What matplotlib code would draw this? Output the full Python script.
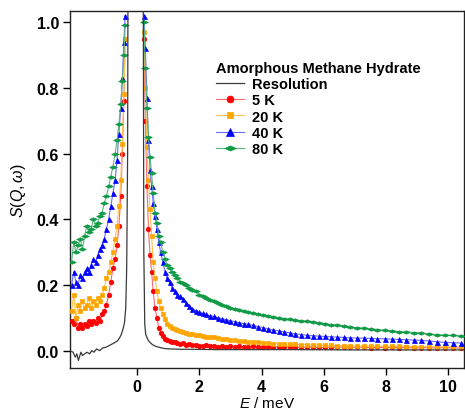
import numpy as np
import matplotlib.pyplot as plt
from matplotlib.path import Path

plt.rcParams['font.family'] = ['Liberation Sans', 'DejaVu Sans']
plt.rcParams['mathtext.fontset'] = 'custom'
plt.rcParams['mathtext.it'] = 'Liberation Sans:italic'
plt.rcParams['mathtext.rm'] = 'Liberation Sans'

# energy grids (meV)
E_neg = [-2.10, -2.03, -1.96, -1.89, -1.82, -1.75, -1.68, -1.61, -1.54, -1.47,
         -1.40, -1.33, -1.26, -1.19, -1.12, -1.05, -0.98, -0.91, -0.84, -0.77,
         -0.70, -0.64, -0.58, -0.52, -0.47, -0.42, -0.38]
E_pos = [0.22, 0.27, 0.32, 0.37, 0.42, 0.47, 0.52, 0.58, 0.64, 0.70,
         0.76, 0.83, 0.90, 0.97, 1.05, 1.13, 1.21, 1.30, 1.39, 1.48,
         1.58, 1.68, 1.78, 1.89, 2.00, 2.11, 2.23, 2.35, 2.47, 2.60,
         2.73, 2.86, 3.00, 3.14, 3.28, 3.43, 3.58, 3.73, 3.89, 4.05,
         4.21, 4.38, 4.55, 4.72, 4.90, 5.08, 5.26, 5.45, 5.64, 5.83,
         6.03, 6.23, 6.43, 6.64, 6.85, 7.06, 7.28, 7.50, 7.72, 7.95,
         8.18, 8.41, 8.65, 8.89, 9.13, 9.38, 9.63, 9.88, 10.14, 10.40]

# S(Q,w) for each temperature, negative side then positive side
s5_neg = [0.09, 0.08, 0.10, 0.07, 0.08, 0.07, 0.08, 0.075, 0.09, 0.08,
          0.09, 0.085, 0.10, 0.09, 0.11, 0.12, 0.14, 0.17, 0.21, 0.25,
          0.28, 0.32, 0.38, 0.47, 0.60, 0.76, 0.95]
s5_pos = [0.95, 0.70, 0.50, 0.37, 0.29, 0.24, 0.18, 0.13, 0.10, 0.07,
          0.055, 0.045, 0.036, 0.033, 0.028, 0.025, 0.027, 0.022, 0.020, 0.024,
          0.018, 0.020, 0.016, 0.018, 0.015, 0.014, 0.016, 0.013, 0.015, 0.012,
          0.014, 0.012, 0.013, 0.011, 0.013, 0.012, 0.011, 0.013, 0.010, 0.012,
          0.011, 0.012, 0.010, 0.011, 0.012, 0.010, 0.011, 0.010, 0.012, 0.010,
          0.011, 0.010, 0.012, 0.010, 0.011, 0.010, 0.011, 0.009, 0.010, 0.009,
          0.010, 0.009, 0.010, 0.008, 0.009, 0.009, 0.008, 0.009, 0.008, 0.008]

s20_neg = [0.12, 0.17, 0.10, 0.14, 0.12, 0.15, 0.13, 0.14, 0.16, 0.13,
           0.15, 0.14, 0.16, 0.15, 0.17, 0.19, 0.22, 0.24, 0.27, 0.30,
           0.34, 0.38, 0.44, 0.52, 0.63, 0.78, 0.95]
s20_pos = [0.97, 0.80, 0.62, 0.52, 0.43, 0.35, 0.27, 0.22, 0.18, 0.15,
           0.13, 0.11, 0.095, 0.082, 0.075, 0.070, 0.066, 0.063, 0.060, 0.057,
           0.055, 0.052, 0.050, 0.048, 0.046, 0.044, 0.042, 0.041, 0.040, 0.038,
           0.036, 0.035, 0.033, 0.031, 0.030, 0.028, 0.027, 0.026, 0.025, 0.024,
           0.022, 0.021, 0.021, 0.020, 0.019, 0.019, 0.018, 0.018, 0.017, 0.017,
           0.016, 0.016, 0.015, 0.015, 0.015, 0.014, 0.014, 0.014, 0.013, 0.013,
           0.013, 0.013, 0.012, 0.012, 0.012, 0.012, 0.012, 0.011, 0.012, 0.011]

s40_neg = [0.20, 0.24, 0.21, 0.20, 0.23, 0.22, 0.24, 0.25, 0.24, 0.26,
           0.28, 0.27, 0.29, 0.31, 0.32, 0.34, 0.37, 0.40, 0.44, 0.48,
           0.52, 0.58, 0.66, 0.74, 0.83, 0.94, 1.02]
s40_pos = [1.02, 0.92, 0.77, 0.64, 0.55, 0.50, 0.45, 0.41, 0.37, 0.33,
           0.30, 0.27, 0.24, 0.22, 0.21, 0.19, 0.18, 0.17, 0.165, 0.157,
           0.145, 0.135, 0.127, 0.122, 0.117, 0.113, 0.110, 0.106, 0.104, 0.100,
           0.097, 0.094, 0.091, 0.088, 0.085, 0.082, 0.080, 0.077, 0.073, 0.070,
           0.066, 0.063, 0.060, 0.057, 0.054, 0.051, 0.049, 0.047, 0.045, 0.044,
           0.043, 0.042, 0.041, 0.040, 0.039, 0.038, 0.038, 0.037, 0.036, 0.036,
           0.035, 0.034, 0.033, 0.032, 0.031, 0.029, 0.027, 0.025, 0.024, 0.023]

s80_neg = [0.27, 0.33, 0.30, 0.32, 0.34, 0.31, 0.35, 0.38, 0.36, 0.37,
           0.40, 0.38, 0.39, 0.41, 0.42, 0.45, 0.47, 0.50, 0.53, 0.56,
           0.60, 0.64, 0.69, 0.75, 0.82, 0.90, 0.99]
s80_pos = [1.00, 0.86, 0.74, 0.65, 0.59, 0.54, 0.48, 0.42, 0.39, 0.35,
           0.33, 0.30, 0.28, 0.26, 0.25, 0.24, 0.23, 0.22, 0.21, 0.205,
           0.20, 0.19, 0.185, 0.18, 0.17, 0.165, 0.16, 0.155, 0.15, 0.145,
           0.14, 0.135, 0.13, 0.128, 0.125, 0.12, 0.118, 0.115, 0.11, 0.107,
           0.104, 0.101, 0.099, 0.097, 0.095, 0.093, 0.091, 0.089, 0.087, 0.085,
           0.082, 0.079, 0.077, 0.075, 0.072, 0.070, 0.068, 0.066, 0.064, 0.062,
           0.060, 0.058, 0.057, 0.055, 0.053, 0.051, 0.049, 0.047, 0.046, 0.045]

# resolution function
res_E = [-2.15, -2.05, -1.98, -1.93, -1.88, -1.85, -1.80, -1.75, -1.68, -1.60,
         -1.52, -1.45, -1.38, -1.30, -1.20, -1.10, -1.00, -0.90, -0.80, -0.70,
         -0.62, -0.55, -0.50, -0.45, -0.40, -0.36, -0.33, -0.30, -0.28, -0.27,
         0.0, 0.19, 0.20, 0.22, 0.25, 0.28, 0.32, 0.37, 0.43, 0.50,
         0.60, 0.75, 0.90, 1.10, 1.40, 1.80, 2.50, 3.50, 5.0, 7.0, 9.0, 10.5]
res_S = [0.0, -0.005, -0.02, -0.01, -0.03, -0.02, -0.005, -0.015, -0.01, -0.005,
         -0.01, 0.0, -0.005, 0.005, 0.0, 0.008, 0.01, 0.015, 0.02, 0.025,
         0.03, 0.04, 0.05, 0.065, 0.085, 0.13, 0.25, 0.6, 1.5, 3.0,
         30.0, 3.0, 1.2, 0.3, 0.08, 0.05, 0.04, 0.03, 0.024, 0.018,
         0.013, 0.009, 0.006, 0.005, 0.004, 0.004, 0.003, 0.003, 0.003, 0.002, 0.002, 0.002]

# label, data, marker colour, line colour, marker, size
series = [("5 K", s5_neg, s5_pos, "#ff0000", "#ff6a6a", "o", 3.3),
          ("20 K", s20_neg, s20_pos, "#ffa500", "#ffc24d", "s", 3.0),
          ("40 K", s40_neg, s40_pos, "#0000ff", "#6a6aff", "^", 3.6),
          ("80 K", s80_neg, s80_pos, "#109a45", "#5ab77f", "dia", 5.5)]

# wide flat diamond for the 80 K data
flat_dia = Path([(-1, 0), (0, 0.45), (1, 0), (0, -0.45), (-1, 0)],
                [Path.MOVETO, Path.LINETO, Path.LINETO, Path.LINETO, Path.CLOSEPOLY])

fig = plt.figure(figsize=(4.65, 4.14), dpi=100)
ax = fig.add_axes([70/465, 1 - 369/414, 394/465, 357/414])

ax.plot(res_E, res_S, color="#3a3a3a", lw=0.9, label="Resolution", zorder=5)

E_all = E_neg + [np.nan] + E_pos
for label, sn, sp, col, lcol, mk, ms in series:
    s_all = sn + [np.nan] + sp
    marker = flat_dia if mk == "dia" else mk
    ax.plot(E_all, s_all, color=lcol, lw=0.8, marker=marker, ms=ms,
            mec=col, mfc=col, mew=0.5, label=label, zorder=3)

ax.set_xlim(-2.15, 10.5)
ax.set_ylim(-0.053, 1.034)
ax.set_xticks([0, 2, 4, 6, 8, 10])
ax.set_yticks([0.0, 0.2, 0.4, 0.6, 0.8, 1.0])
ax.set_yticklabels(["0.0", "0.2", "0.4", "0.6", "0.8", "1.0"])
ax.tick_params(direction="out", length=5, width=1, labelsize=11.5, pad=3)
for t in ax.get_xticklabels() + ax.get_yticklabels():
    t.set_fontweight("bold")
for sp in ax.spines.values():
    sp.set_linewidth(1.0)
    sp.set_color("#222222")

ax.set_xlabel(r"$E$ / meV", fontsize=11, labelpad=1)
ax.set_ylabel(r"$S(Q,\omega)$", fontsize=11.5, labelpad=6)

leg = ax.legend(loc="upper left", bbox_to_anchor=(216/465, 1 - 62/414),
                bbox_transform=fig.transFigure, frameon=False,
                title="Amorphous Methane Hydrate", borderpad=0, borderaxespad=0,
                handlelength=1.9, handletextpad=0.6, labelspacing=0.15,
                prop={"weight": "bold", "size": 10.5},
                title_fontproperties={"weight": "bold", "size": 10.5})
leg._legend_box.align = "left"
for h in leg.legend_handles:
    h.set_markersize(h.get_markersize() * 1.5)

fig.savefig("out.png", dpi=100)
